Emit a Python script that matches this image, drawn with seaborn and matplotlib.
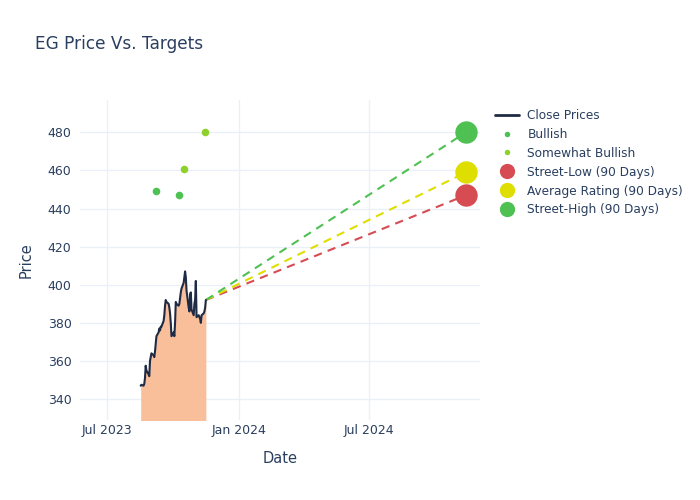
import numpy as np
import pandas as pd
import matplotlib
matplotlib.use("Agg")
import matplotlib.pyplot as plt
import matplotlib.dates as mdates
from matplotlib.lines import Line2D
import seaborn as sns

# ---- data ----
close_start = "2023-08-17"
close_prices = [347, 347.5, 347, 348, 351, 357.5, 355, 353, 352, 360,
                362, 364, 363, 362, 365, 369, 373, 375, 377, 376,
                378, 378, 381, 384, 389, 392, 391, 390, 388, 385,
                380, 373, 375, 373, 380, 391, 390, 389, 390, 393,
                396, 398, 401, 404, 407, 404, 397, 388, 386, 395,
                396, 387, 384, 390, 392, 402, 383, 384, 383, 382,
                380, 384, 385, 386, 388, 392]
bullish_dates = ["2023-09-07", "2023-10-09"]
bullish_values = [449, 447]
sw_bullish_dates = ["2023-10-16", "2023-11-15"]
sw_bullish_values = [461, 480]
target_date = "2024-11-13"
target_low = 447
target_avg = 459
target_high = 480

# ---- build frames ----
dates = pd.bdate_range(close_start, periods=len(close_prices))
close_df = pd.DataFrame({"Date": dates, "Price": close_prices})
last_date = dates[-1]
last_price = close_prices[-1]
bull_df = pd.DataFrame({"Date": pd.to_datetime(bullish_dates), "Price": bullish_values})
swb_df = pd.DataFrame({"Date": pd.to_datetime(sw_bullish_dates), "Price": sw_bullish_values})

sns.set_theme(style="white")
plt.rcParams["font.family"] = ["DejaVu Sans"]
txt = "#2a3f5f"

fig = plt.figure(figsize=(7, 5), dpi=100)
ax = fig.add_axes([0.114, 0.16, 0.572, 0.64])

ax.fill_between(close_df["Date"], close_df["Price"], 300, color="#f9bf9b", alpha=1.0, lw=0, zorder=1)
sns.lineplot(data=close_df, x="Date", y="Price", color="#1f2a44", lw=1.5, ax=ax, zorder=3)

c_low, c_avg, c_high = "#d64c52", "#dede00", "#4fc153"
for val, col in [(target_low, c_low), (target_avg, c_avg), (target_high, c_high)]:
    tdf = pd.DataFrame({"Date": [last_date, pd.Timestamp(target_date)], "Price": [last_price, val]})
    sns.lineplot(data=tdf, x="Date", y="Price", color=col, lw=1.5, ls=(0, (4, 3)), ax=ax, zorder=2)
    sns.scatterplot(x=[pd.Timestamp(target_date)], y=[val], color=col, s=260, ax=ax, zorder=4, linewidth=0)

sns.scatterplot(data=bull_df, x="Date", y="Price", color="#4fc153", s=30, linewidth=0, ax=ax, zorder=4)
sns.scatterplot(data=swb_df, x="Date", y="Price", color="#8fd12c", s=30, linewidth=0, ax=ax, zorder=4)

ax.set_xlim(pd.Timestamp("2023-05-24"), pd.Timestamp("2024-12-03"))
ax.set_ylim(329, 497)
ax.set_yticks(np.arange(340, 481, 20))
ax.set_xticks(pd.to_datetime(["2023-07-01", "2024-01-01", "2024-07-01"]))
ax.xaxis.set_major_formatter(mdates.DateFormatter("%b %Y"))
ax.grid(True, color="#ebf0f8", lw=1)
ax.set_axisbelow(True)
for s in ax.spines.values():
    s.set_visible(False)
ax.tick_params(axis="both", length=0, labelsize=9, colors=txt)
ax.tick_params(axis="x", pad=3)
ax.tick_params(axis="y", pad=6)
ax.set_xlabel("Date", fontsize=10.5, color=txt, labelpad=10)
ax.set_ylabel("Price", fontsize=10.5, color=txt, labelpad=10)

fig.text(0.05, 0.912, "EG Price Vs. Targets", fontsize=12.2, color=txt, va="center")

handles = [
    Line2D([0], [0], color="#1f2a44", lw=2),
    Line2D([0], [0], marker="o", color="w", markerfacecolor="#4fc153", markersize=5, lw=0),
    Line2D([0], [0], marker="o", color="w", markerfacecolor="#8fd12c", markersize=5, lw=0),
    Line2D([0], [0], marker="o", color="w", markerfacecolor=c_low, markersize=12, lw=0),
    Line2D([0], [0], marker="o", color="w", markerfacecolor=c_avg, markersize=12, lw=0),
    Line2D([0], [0], marker="o", color="w", markerfacecolor=c_high, markersize=12, lw=0),
]
labels = ["Close Prices", "Bullish", "Somewhat Bullish", "Street-Low (90 Days)",
          "Average Rating (90 Days)", "Street-High (90 Days)"]
leg = fig.legend(handles, labels, loc="upper left", bbox_to_anchor=(0.700, 0.792),
                 frameon=False, fontsize=8.7, labelspacing=0.49, handlelength=2.0,
                 handletextpad=0.7, borderaxespad=0)
for t in leg.get_texts():
    t.set_color(txt)

fig.savefig("out.png", dpi=100)
